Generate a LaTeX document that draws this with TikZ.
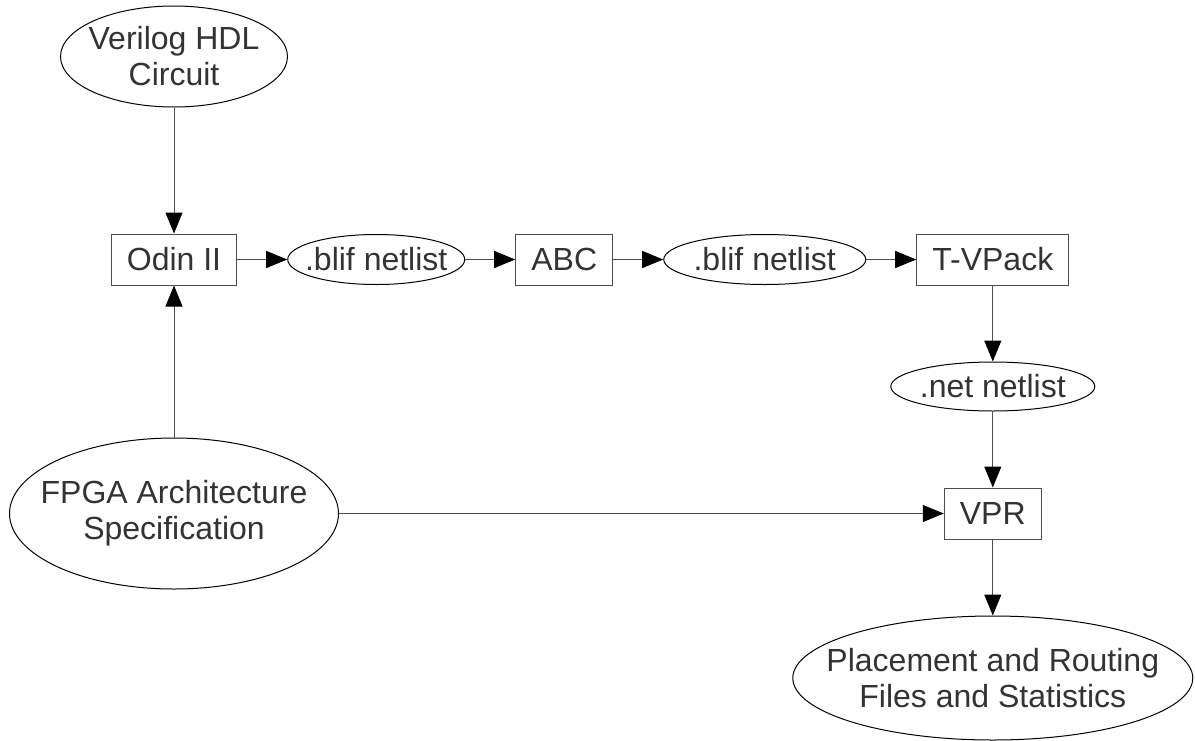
\documentclass[tikz,border=0pt]{standalone}
\usepackage{fontspec}
\setmainfont{Liberation Sans}
\usetikzlibrary{positioning,shapes.geometric,arrows.meta}
\definecolor{linegray}{HTML}{4D4D4D}
\definecolor{textgray}{HTML}{333333}

\begin{document}
\begin{tikzpicture}[node distance=25pt,
  >={Triangle[length=10.5pt,width=8.5pt,color=black]},
  font=\fontsize{16}{18}\selectfont, text=textgray,
  tool/.style={rectangle,draw=linegray,line width=0.5pt,inner xsep=7.8pt,inner ysep=2pt,minimum height=25.5pt},
  data/.style={ellipse,draw=black,line width=0.5pt,inner xsep=-14pt,inner ysep=0pt,align=center},
  flow/.style={->,draw=linegray,line width=0.5pt}]
 \useasboundingbox (0,0) rectangle (597.5pt,-370pt);

 \node[tool] (odin) at (87pt,-129.75pt) {Odin II};
 \node[data,minimum width=113.5pt,minimum height=50.5pt] (verilog) [above=63pt of odin] {Verilog HDL\\Circuit};
 \node[data,minimum width=88.5pt,minimum height=25pt] (blif1) [right=of odin] {.blif netlist};
 \node[tool] (abc) [right=of blif1] {ABC};
 \node[data,minimum width=101pt,minimum height=25pt] (blif2) [right=of abc] {.blif netlist};
 \node[tool] (tvpack) [right=of blif2] {T-VPack};
 \node[data,minimum width=102pt,minimum height=24.5pt] (net) [below=38pt of tvpack] {.net netlist};
 \node[tool] (vpr) [below=38pt of net] {VPR};
 \node[data,minimum width=200pt,minimum height=62pt] (place) [below=38pt of vpr] {Placement and Routing\\Files and Statistics};
 \node[data,minimum width=164.5pt,minimum height=75.5pt] (fpga) [below=76pt of odin] {FPGA Architecture\\Specification};

\path (verilog) edge [flow] (odin);
\path (fpga) edge [flow] (odin);
\path (odin) edge [flow] (blif1);
\path (blif1) edge [flow] (abc);
\path (abc) edge [flow] (blif2);
\path (blif2) edge [flow] (tvpack);
\path (tvpack) edge [flow] (net);
\path (net) edge [flow] (vpr);
\path (fpga.east) edge [flow] (vpr.west);
\path (vpr) edge [flow] (place);
\end{tikzpicture}
\end{document}
